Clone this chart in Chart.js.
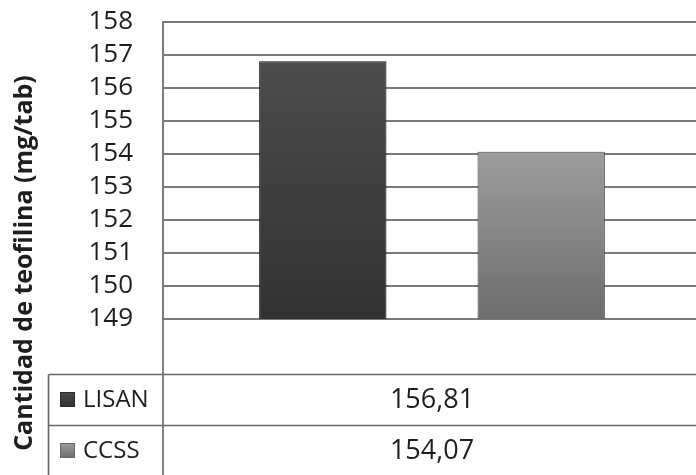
<!DOCTYPE html>
<html>
<head>
<meta charset="utf-8">
<script src="https://cdn.jsdelivr.net/npm/chart.js@4/dist/chart.umd.min.js"></script>
<style>
  html, body { margin: 0; padding: 0; background: #fff; overflow: hidden; }
  #wrap { width: 696px; height: 475px; overflow: hidden; position: relative; }
  canvas { display: block; }
</style>
</head>
<body>
<div id="wrap"><canvas id="c" width="702" height="475"></canvas></div>
<script>
// Chart data
const categories = [''];
const seriesNames = ['LISAN', 'CCSS'];
const seriesValues = [156.81, 154.07];
const yMin = 149;
const yMax = 158;
const yStep = 1;
const yTitle = 'Cantidad de teofilina (mg/tab)';

// Styling
const FONT = '"Open Sans", "Noto Sans", sans-serif';
const TEXT = '#1e1e1e';
const GRID = '#7a7a7a';
const TABLE_LINE = '#666666';
const barColors = [
  { top: '#4c4c4c', bottom: '#323232', edge: '#2a2a2a' },
  { top: '#9d9d9d', bottom: '#6d6d6d', edge: '#666666' }
];

function decimalComma(v) {
  return v.toFixed(2).replace('.', ',');
}

function barGradient(ctx, i) {
  const chart = ctx.chart;
  const area = chart.chartArea;
  if (!area) return barColors[i].top;
  const y = chart.scales.y;
  const top = y.getPixelForValue(seriesValues[i]);
  const bottom = y.getPixelForValue(yMin);
  const g = chart.ctx.createLinearGradient(0, top, 0, bottom);
  g.addColorStop(0, barColors[i].top);
  g.addColorStop(1, barColors[i].bottom);
  return g;
}

// Soft shadow behind the bars
const barShadow = {
  id: 'barShadow',
  beforeDatasetsDraw(chart) {
    const c = chart.ctx;
    c.save();
    c.shadowColor = 'rgba(0,0,0,0.35)';
    c.shadowBlur = 6;
    c.shadowOffsetX = 0;
    c.shadowOffsetY = 0;
  },
  afterDatasetsDraw(chart) {
    chart.ctx.restore();
  }
};

// Rotated axis title and the data table under the plot
const dataTable = {
  id: 'dataTable',
  afterDraw(chart) {
    const c = chart.ctx;
    const area = chart.chartArea;
    const W = chart.width;
    const left = 48.5;
    const rowTops = [374.5, 425.5];
    const rowH = 51;
    c.save();

    // table lines
    c.strokeStyle = TABLE_LINE;
    c.lineWidth = 1.6;
    c.beginPath();
    c.moveTo(area.left, area.bottom);
    c.lineTo(area.left, chart.height + 2);
    c.moveTo(left, rowTops[0]);
    c.lineTo(left, chart.height + 2);
    rowTops.forEach(t => { c.moveTo(left, t); c.lineTo(W, t); });
    c.stroke();

    // rows: legend key, series name, value
    const valueX = (area.left + area.right) / 2;
    chart.data.datasets.forEach((ds, i) => {
      const cy = rowTops[i] + rowH / 2;
      const kx = 60, ky = cy - 8, ks = 15;
      const g = c.createLinearGradient(0, ky, 0, ky + ks);
      g.addColorStop(0, barColors[i].top);
      g.addColorStop(1, barColors[i].bottom);
      c.fillStyle = g;
      c.fillRect(kx, ky, ks, ks);
      c.strokeStyle = barColors[i].edge;
      c.lineWidth = 1;
      c.strokeRect(kx + 0.5, ky + 0.5, ks - 1, ks - 1);

      c.fillStyle = TEXT;
      c.textBaseline = 'middle';
      c.font = '24px ' + FONT;
      c.textAlign = 'left';
      c.fillText(ds.label, 83, cy);
      c.textAlign = 'center';
      c.font = '27px ' + FONT;
      c.fillText(decimalComma(ds.data[0]), valueX, cy);
    });

    // y axis title
    c.translate(25, 263);
    c.rotate(-Math.PI / 2);
    c.font = 'bold 25px ' + FONT;
    c.fillStyle = TEXT;
    c.textAlign = 'center';
    c.textBaseline = 'middle';
    c.fillText(yTitle, 0, 0);
    c.restore();
  }
};

new Chart(document.getElementById('c'), {
  type: 'bar',
  data: {
    labels: categories,
    datasets: seriesNames.map((name, i) => ({
      label: name,
      data: [seriesValues[i]],
      backgroundColor: ctx => barGradient(ctx, i),
      borderColor: barColors[i].edge,
      borderWidth: 1,
      borderSkipped: false,
      categoryPercentage: 0.812,
      barPercentage: 0.583
    }))
  },
  options: {
    responsive: false,
    animation: false,
    devicePixelRatio: 1,
    layout: { padding: { top: 22, right: 1, bottom: 156, left: 0 } },
    plugins: {
      legend: { display: false },
      tooltip: { enabled: false },
      title: { display: false }
    },
    scales: {
      x: {
        display: false
      },
      y: {
        min: yMin,
        max: yMax,
        afterFit(scale) {
          scale.width = 163;
          scale.paddingTop = 0;
          scale.paddingBottom = 0;
        },
        ticks: {
          stepSize: yStep,
          autoSkip: false,
          padding: 30,
          color: TEXT,
          font: { family: FONT, size: 26, lineHeight: 1 }
        },
        grid: {
          color: GRID,
          lineWidth: 2,
          drawTicks: false
        },
        border: { display: true, color: GRID, width: 2 }
      }
    }
  },
  plugins: [barShadow, dataTable]
});
</script>
</body>
</html>
